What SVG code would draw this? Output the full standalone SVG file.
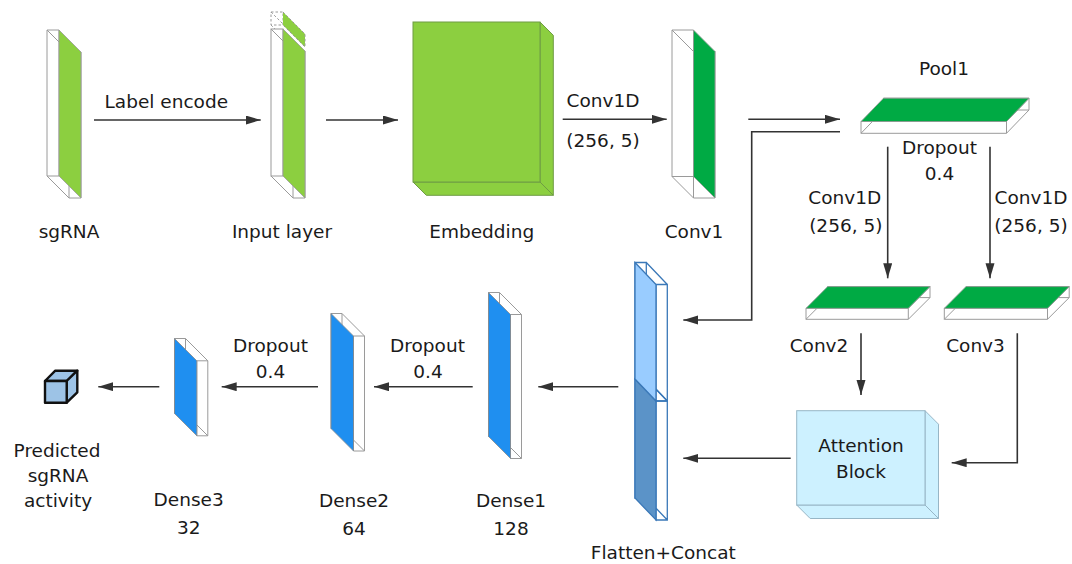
<svg xmlns="http://www.w3.org/2000/svg" width="1072" height="564" viewBox="0 0 1072 564">
  <defs>
    <marker id="arrow" markerUnits="userSpaceOnUse" markerWidth="16" markerHeight="10" refX="15" refY="4.5" orient="auto">
      <path d="M0,0 L15,4.5 L0,9 Z" fill="#333"/>
    </marker>
    <style>
      .t { font-family: "DejaVu Sans", Verdana, sans-serif; font-size: 18.5px; fill: #1a1a1a; text-anchor: middle; }
      .wire { fill: none; stroke: #9a9a9a; stroke-width: 1; }
      .wire-dash { fill: none; stroke: #9a9a9a; stroke-width: 1; stroke-dasharray: 2.5 2; }
      .lg { fill: #8ccf40; stroke: #9a9a9a; stroke-width: 0.8; }
      .emb { fill: #8ccf40; stroke: #6f9c44; stroke-width: 1; }
      .dg { fill: #00aa44; stroke: #9a9a9a; stroke-width: 0.8; }
      .blue { fill: #1f8ff0; stroke: #8a8a8a; stroke-width: 0.8; }
      .bwire { fill: none; stroke: #3a78b8; stroke-width: 1.3; }
      .fl1 { fill: #99ccff; stroke: #3a78b8; stroke-width: 1.3; }
      .fl2 { fill: #5b93c8; stroke: #3a78b8; stroke-width: 1.3; }
      .att { fill: #cdf1ff; stroke: #97b6c6; stroke-width: 1; }
      .cube { fill: #9dc3e6; stroke: #111; stroke-width: 2.4; stroke-linejoin: round; }
      .conn { fill: none; stroke: #333; stroke-width: 1.6; marker-end: url(#arrow); }
    </style>
  </defs>

  <rect width="1072" height="564" fill="#ffffff"/>

  <!-- sgRNA: upright slab, depth runs down-right -->
  <g id="sgRNA">
    <path class="wire" d="M47,30 H59 V176 H47 Z M69,52 H81 V198 H69 Z M47,30 L69,52 M47,176 L69,198"/>
    <polygon class="lg" points="59,30 81,52 81,198 59,176"/>
    <text class="t" x="69" y="238">sgRNA</text>
  </g>

  <!-- Input layer: slab with a detached top piece -->
  <g id="input-layer">
    <path class="wire-dash" d="M271,12 H283 V25 H271 Z M271,12 L293,34 M271,25 L293,47"/>
    <polygon class="lg" points="283,12 305,34 305,47 283,25" style="stroke:none"/>
    <path class="wire-dash" d="M283,12 L305,34 V47 L283,25"/>
    <path class="wire" d="M293,51 H305 V198 H293 Z"/>
    <rect x="271" y="29" width="12" height="147" fill="#fff" stroke="#9a9a9a" stroke-width="1"/>
    <path class="wire" d="M271,29 L293,51 M271,176 L293,198"/>
    <polygon class="lg" points="283,29 305,51 305,198 283,176"/>
    <text class="t" x="282" y="238">Input layer</text>
  </g>

  <!-- Embedding: solid block -->
  <g id="embedding">
    <polygon class="emb" points="540,22 553.3,35.3 553.3,195.3 540,182"/>
    <polygon class="emb" points="413,182 540,182 553.3,195.3 426.3,195.3"/>
    <rect class="emb" x="413" y="22" width="127" height="160"/>
    <text class="t" x="481.7" y="238">Embedding</text>
  </g>

  <!-- Conv1 -->
  <g id="conv1">
    <path class="wire" d="M672,30 H693.5 V176.5 H672 Z M693.5,51.5 H715 V198 H693.5 Z M672,30 L693.5,51.5 M672,176.5 L693.5,198"/>
    <polygon class="dg" points="693.5,30 715,51.5 715,198 693.5,176.5"/>
    <text class="t" x="694" y="238">Conv1</text>
  </g>

  <!-- Pool1: flat slab, depth runs up-right -->
  <g id="pool1">
    <path class="wire" d="M861,121.5 H1006.5 V133.3 H861 Z M883.5,98.2 H1029 V110 H883.5 Z M861,133.3 L883.5,110 M1006.5,133.3 L1029,110 M1006.5,121.5 L1029,98.2"/>
    <polygon class="dg" points="861,121.5 883.5,98.2 1029,98.2 1006.5,121.5"/>
    <text class="t" x="944" y="75">Pool1</text>
  </g>

  <!-- Conv2 -->
  <g id="conv2">
    <path class="wire" d="M806,308.3 H908.3 V319.3 H806 Z M827.7,286.6 H930 V297.6 H827.7 Z M806,319.3 L827.7,297.6 M908.3,319.3 L930,297.6 M908.3,308.3 L930,286.6"/>
    <polygon class="dg" points="806,308.3 827.7,286.6 930,286.6 908.3,308.3"/>
    <text class="t" x="819" y="351.7">Conv2</text>
  </g>

  <!-- Conv3 -->
  <g id="conv3">
    <path class="wire" d="M944.3,308.3 H1047.5 V319.3 H944.3 Z M966,286.6 H1069.2 V297.6 H966 Z M944.3,319.3 L966,297.6 M1047.5,319.3 L1069.2,297.6 M1047.5,308.3 L1069.2,286.6"/>
    <polygon class="dg" points="944.3,308.3 966,286.6 1069.2,286.6 1047.5,308.3"/>
    <text class="t" x="975.5" y="351.7">Conv3</text>
  </g>

  <!-- Attention block -->
  <g id="attention-block">
    <polygon class="att" points="925,410.7 938.5,424.2 938.5,518.5 925,505"/>
    <polygon class="att" points="796.7,505 925,505 938.5,518.5 810.2,518.5"/>
    <rect class="att" x="796.7" y="410.7" width="128.3" height="94.3"/>
    <text class="t" x="861" y="451.7">Attention</text>
    <text class="t" x="861" y="478.3">Block</text>
  </g>

  <!-- Flatten+Concat: two stacked slabs, depth runs up-left -->
  <g id="flatten-concat">
    <path class="bwire" d="M635,379 H646.3 V498 H635 Z M656,401 H667.3 V520 H656 Z M646.3,379 L667.3,401 M646.3,498 L667.3,520"/>
    <polygon class="fl2" points="635,379 656,401 656,520 635,498"/>
    <path class="bwire" d="M635,262.5 H646.3 V379 H635 Z M656,284.5 H667.3 V401 H656 Z M646.3,262.5 L667.3,284.5 M646.3,379 L667.3,401"/>
    <polygon class="fl1" points="635,262.5 656,284.5 656,401 635,379"/>
    <text class="t" x="663.3" y="559">Flatten+Concat</text>
  </g>

  <!-- Dense1 -->
  <g id="dense1">
    <path class="wire" d="M488.5,292.5 H499.5 V436.5 H488.5 Z M510.5,314.5 H521.5 V458.5 H510.5 Z M499.5,292.5 L521.5,314.5 M499.5,436.5 L521.5,458.5"/>
    <polygon class="blue" points="488.5,292.5 510.5,314.5 510.5,458.5 488.5,436.5"/>
    <text class="t" x="511" y="506.7">Dense1</text>
    <text class="t" x="511" y="535">128</text>
  </g>

  <!-- Dense2 -->
  <g id="dense2">
    <path class="wire" d="M331,313.5 H342 V428.5 H331 Z M353.5,336 H364.5 V451 H353.5 Z M342,313.5 L364.5,336 M342,428.5 L364.5,451"/>
    <polygon class="blue" points="331,313.5 353.5,336 353.5,451 331,428.5"/>
    <text class="t" x="354" y="506.7">Dense2</text>
    <text class="t" x="354" y="535">64</text>
  </g>

  <!-- Dense3 -->
  <g id="dense3">
    <path class="wire" d="M174.5,338.5 H185.5 V413.5 H174.5 Z M196.8,360.8 H207.8 V435.8 H196.8 Z M185.5,338.5 L207.8,360.8 M185.5,413.5 L207.8,435.8"/>
    <polygon class="blue" points="174.5,338.5 196.8,360.8 196.8,435.8 174.5,413.5"/>
    <text class="t" x="188.7" y="506">Dense3</text>
    <text class="t" x="188.7" y="534">32</text>
  </g>

  <!-- Output cube -->
  <g id="prediction">
    <polygon class="cube" points="45,381 55.3,370.7 77.3,370.7 66.7,381"/>
    <polygon class="cube" points="66.7,381 77.3,370.7 77.3,392.3 66.7,402.7"/>
    <rect class="cube" x="45" y="381" width="21.7" height="21.7"/>
    <text class="t" x="57" y="457">Predicted</text>
    <text class="t" x="58" y="482">sgRNA</text>
    <text class="t" x="58" y="507">activity</text>
  </g>

  <!-- Connectors -->
  <g id="connectors">
    <path class="conn" d="M94,120 H260.7"/>
    <path class="conn" d="M326,120 H398"/>
    <path class="conn" d="M562.7,119.3 H666.7"/>
    <path class="conn" d="M748.3,119.3 H840"/>
    <path class="conn" d="M840,131.7 H751.7 V320 H683.3"/>
    <path class="conn" d="M887.7,146.7 V278.3"/>
    <path class="conn" d="M990,146.7 V278.3"/>
    <path class="conn" d="M861,333.3 V395"/>
    <path class="conn" d="M1017.3,333.3 V462.7 H951.7"/>
    <path class="conn" d="M790.7,458.3 H683.3"/>
    <path class="conn" d="M618.3,386.7 H538.3"/>
    <path class="conn" d="M472.7,386.7 H374"/>
    <path class="conn" d="M318,386.7 H221.7"/>
    <path class="conn" d="M159.3,386.7 H98.3"/>
  </g>

  <!-- Connector labels -->
  <g id="labels">
    <text class="t" x="166.3" y="108.3">Label encode</text>
    <text class="t" x="603" y="107">Conv1D</text>
    <text class="t" x="603" y="147">(256, 5)</text>
    <text class="t" x="939.5" y="154.3">Dropout</text>
    <text class="t" x="939.5" y="180">0.4</text>
    <text class="t" x="844.7" y="204">Conv1D</text>
    <text class="t" x="845.8" y="231.7">(256, 5)</text>
    <text class="t" x="1031" y="204">Conv1D</text>
    <text class="t" x="1031" y="231.7">(256, 5)</text>
    <text class="t" x="427.5" y="351.7">Dropout</text>
    <text class="t" x="428" y="378">0.4</text>
    <text class="t" x="270.5" y="352">Dropout</text>
    <text class="t" x="270.5" y="378">0.4</text>
  </g>
</svg>
